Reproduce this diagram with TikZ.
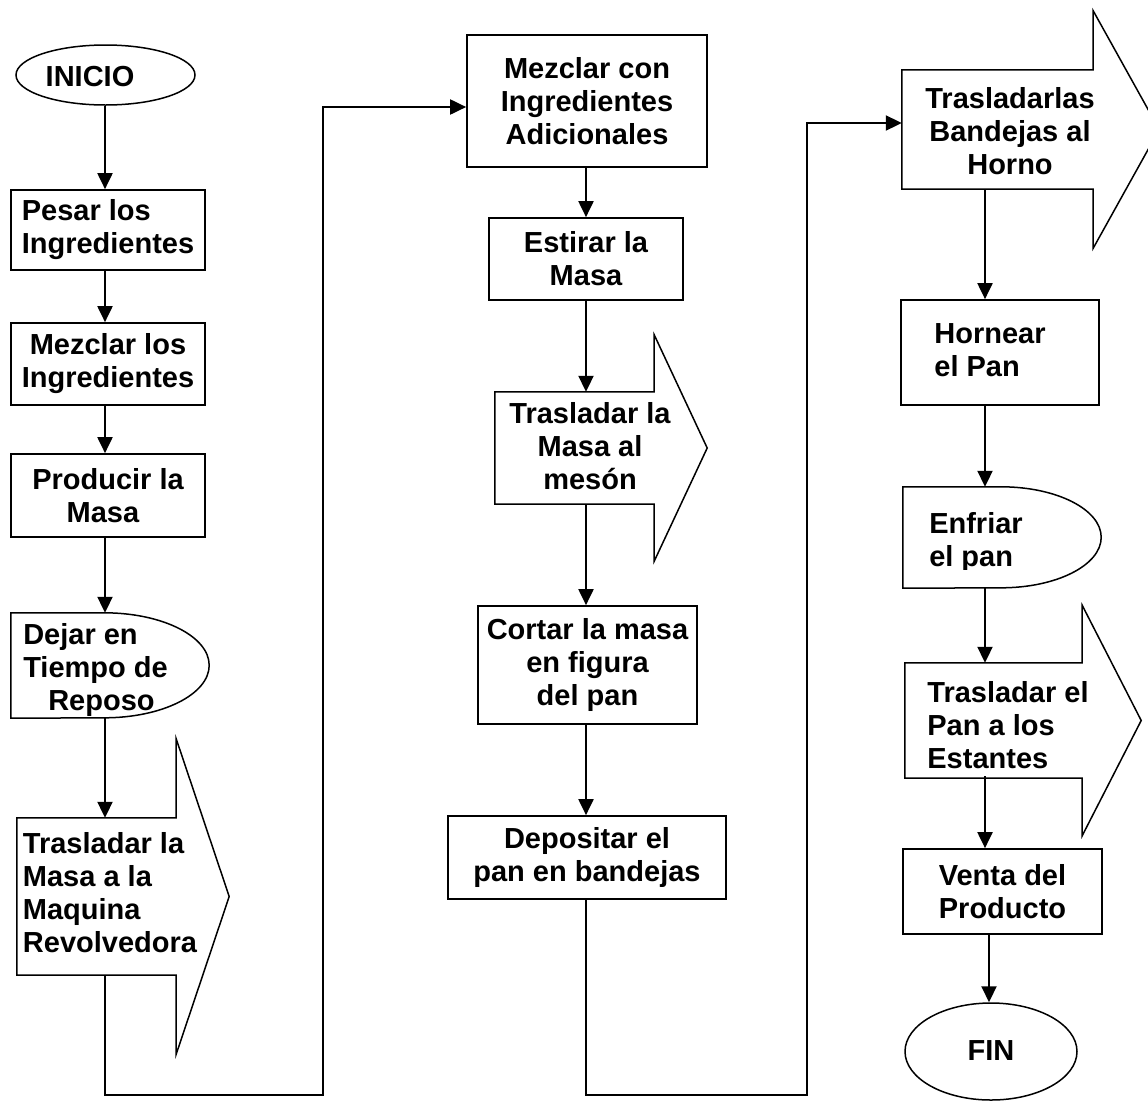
\documentclass[tikz,border=0pt]{standalone}
\usepackage{fontspec}
\setmainfont{Liberation Sans}
\usetikzlibrary{arrows.meta,calc,shapes.geometric}

% outline of a transport arrow around a body node: #2 = head overhang, #3 = head length
\newcommand{\transportoutline}[3]{%
  \draw[outline] (#1.north west) -- (#1.north east) -- ++(0,-#2)
    -- ($(#1.east)+(#3,0)$) -- ($(#1.south east)+(0,#2)$)
    -- (#1.south east) -- (#1.south west) -- cycle;}
% outline of a delay symbol (flat left side, rounded right side) around a node
\newcommand{\delayoutline}[3]{%
  \draw[outline] (#1.south west) -- (#1.north west) -- ($(#1.north east)+(-#2,0)$)
    arc[start angle=90,end angle=-90,x radius=#2pt,y radius=#3pt] -- cycle;}

\begin{document}
\begin{tikzpicture}[x=1pt,y=-1pt,
  txt/.style={font=\fontsize{29}{33}\selectfont\bfseries, inner sep=0pt, align=center},
  txtl/.style={txt, align=left},
  box/.style={draw, line width=1.7pt, rectangle, inner sep=0pt},
  ghost/.style={rectangle, inner sep=0pt, draw=none},
  oval/.style={draw, line width=1.5pt, ellipse, inner sep=0pt},
  outline/.style={line width=1.5pt, line join=miter},
  conn/.style={line width=2pt, -{Triangle[length=16pt,width=15pt]}},
]
\useasboundingbox[fill=white] (0,0) rectangle (1148,1109);

% column guide coordinates
\coordinate (colL) at (105,0);
\coordinate (colM) at (586,0);
\coordinate (colR) at (985,0);
\coordinate (colV) at (989,0);
\coordinate (loopA) at (323,1095);
\coordinate (loopB) at (807,1095);

% ---------- left column ----------
\node[oval, minimum width=179pt, minimum height=60pt] (inicio) at (105.5,75) {};
\node[txt] (inicioT) at (90,77) {INICIO};

\node[box, txtl, minimum width=194pt, minimum height=80pt] (pesar) at (108,230)
  {Pesar los\\Ingredientes};
\node[box, txt, minimum width=194pt, minimum height=82pt] (mezclar) at (108,364)
  {Mezclar los\\Ingredientes};
\node[box, txt, minimum width=194pt, minimum height=83pt] (producir) at (108,495.5)
  {Producir la\\Masa\hspace*{0.35em}};

\node[ghost, minimum width=198pt, minimum height=105pt] (dejar) at (110,665.5) {};
\delayoutline{dejar}{105}{52.5}
\node[txtl] (dejarT) at (95.5,670) {Dejar en\\Tiempo de\\\hspace*{25pt}Reposo};

\node[ghost, minimum width=159pt, minimum height=157pt] (trasA) at (96.5,896.5) {};
\transportoutline{trasA}{79}{53}
\node[txtl] (trasAT) at (110,893) {Trasladar la\\Masa a la\\Maquina\\Revolvedora};

% ---------- middle column ----------
\node[box, txt, minimum width=240pt, minimum height=132pt] (mezc) at (587,101)
  {Mezclar con\\Ingredientes\\Adicionales};
\node[box, txt, minimum width=194pt, minimum height=82pt] (estirar) at (586,259)
  {Estirar la\\Masa};

\node[ghost, minimum width=159pt, minimum height=112pt] (trasB) at (574.5,448) {};
\transportoutline{trasB}{57}{53}
\node[txt] (trasBT) at (590,446) {Trasladar la\\Masa al\\mesón};

\node[box, txt, minimum width=219pt, minimum height=118pt] (cortar) at (587.5,665)
  {Cortar la masa\\en figura\\del pan};
\node[box, txt, minimum width=278pt, minimum height=83pt] (depos) at (587,857.5)
  {Depositar el\\pan en bandejas};

% ---------- right column ----------
\node[ghost, minimum width=191pt, minimum height=119pt] (trasC) at (997.5,129.5) {};
\transportoutline{trasC}{59}{66}
\node[txt] (trasCT) at (1010,131) {Trasladarlas\\Bandejas al\\Horno};

\node[box, minimum width=198pt, minimum height=105pt] (hornear) at (1000,352.5) {};
\node[txtl] (hornearT) at (990,350) {Hornear\\el Pan};

\node[ghost, minimum width=198pt, minimum height=101pt] (enfriar) at (1002,537.5) {};
\delayoutline{enfriar}{100}{50.5}
\begin{scope}
  \clip (903,487) rectangle (1101,569);
  \node[txtl] (enfriarT) at (976,542.5) {Enfriar\\el pan};
\end{scope}

\node[ghost, minimum width=177pt, minimum height=115pt] (trasD) at (993.5,720.5) {};
\transportoutline{trasD}{57.5}{59}
\node[txtl] (trasDT) at (1008,725) {Trasladar el\\Pan a los\\Estantes};

\node[box, txt, minimum width=199pt, minimum height=85pt] (venta) at (1002.5,891.5)
  {Venta del\\Producto};

\node[oval, minimum width=172pt, minimum height=97pt] (fin) at (991,1051.5) {};
\node[txt] (finT) at (991,1051) {FIN};

% ---------- connectors ----------
\draw[conn] (inicio.south -| colL) -- (pesar.north -| colL);
\draw[conn] (pesar.south -| colL) -- (mezclar.north -| colL);
\draw[conn] (mezclar.south -| colL) -- (producir.north -| colL);
\draw[conn] (producir.south -| colL) -- (dejar.north -| colL);
\draw[conn] (dejar.south -| colL) -- (trasA.north -| colL);
\draw[conn] (trasA.south -| colL) |- (loopA) |- ([yshift=-6pt]mezc.west);

\draw[conn] (mezc.south -| colM) -- (estirar.north -| colM);
\draw[conn] (estirar.south -| colM) -- (trasB.north -| colM);
\draw[conn] (trasB.south -| colM) -- (cortar.north -| colM);
\draw[conn] (cortar.south -| colM) -- (depos.north -| colM);
\draw[conn] (depos.south -| colM) |- (loopB) |- ([yshift=6.5pt]trasC.west);

\draw[conn] (trasC.south -| colR) -- (hornear.north -| colR);
\draw[conn] (hornear.south -| colR) -- (enfriar.north -| colR);
\draw[conn] (enfriar.south -| colR) -- (trasD.north -| colR);
\draw[conn] ([yshift=2pt]trasD.south -| colR) -- (venta.north -| colR);
\draw[conn] (venta.south -| colV) -- (fin.north -| colV);
\end{tikzpicture}
\end{document}
